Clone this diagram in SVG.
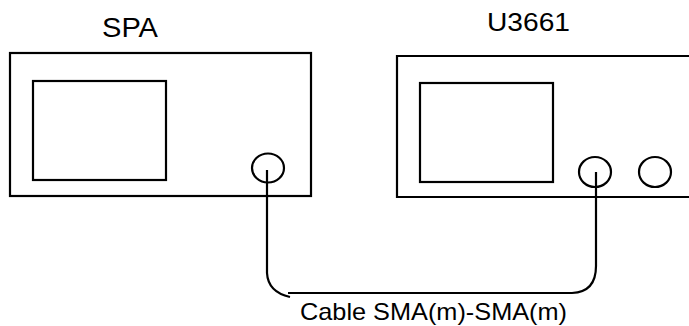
<svg xmlns="http://www.w3.org/2000/svg" width="689" height="326" viewBox="0 0 689 326">
<style>
.ln{fill:none;stroke:#000;stroke-width:2.2}
.t{font-family:"Liberation Sans",Arial,sans-serif;fill:#000}
</style>
<rect width="689" height="326" fill="#fff"/>
<g id="spa">
<text class="t" x="102" y="37" font-size="27" textLength="56" lengthAdjust="spacingAndGlyphs">SPA</text>
<rect class="ln" x="10" y="53" width="301" height="143"/>
<rect class="ln" x="33" y="81" width="133" height="99"/>
<ellipse class="ln" cx="268" cy="168" rx="16" ry="14.5"/>
</g>
<g id="u3661">
<text class="t" x="487" y="31" font-size="26" textLength="83" lengthAdjust="spacingAndGlyphs">U3661</text>
<path class="ln" d="M690 56 H397 V197 H690"/>
<rect class="ln" x="420" y="83" width="133" height="99"/>
<ellipse class="ln" cx="595" cy="172" rx="16" ry="15"/>
<ellipse class="ln" cx="655" cy="172" rx="16" ry="15"/>
</g>
<g id="connectors">
<path class="ln" d="M267 170 V273 Q268 292 290 297"/>
<path class="ln" d="M288 293 H572 Q596 292 596 266 V172"/>
</g>
<text class="t" x="300" y="320" font-size="24" textLength="267" lengthAdjust="spacingAndGlyphs">Cable SMA(m)-SMA(m)</text>
</svg>
